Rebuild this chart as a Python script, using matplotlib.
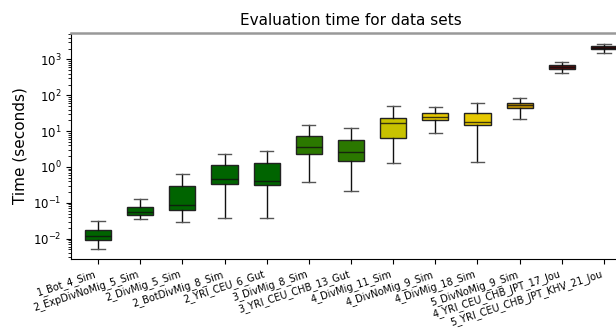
import matplotlib
matplotlib.use("Agg")
import matplotlib.pyplot as plt

# data sets (one box per data set)
labels = [
    "1_Bot_4_Sim", "2_ExpDivNoMig_5_Sim", "2_DivMig_5_Sim", "2_BotDivMig_8_Sim",
    "2_YRI_CEU_6_Gut", "3_DivMig_8_Sim", "3_YRI_CEU_CHB_13_Gut", "4_DivMig_11_Sim",
    "4_DivNoMig_9_Sim", "4_DivMig_18_Sim", "5_DivNoMig_9_Sim",
    "4_YRI_CEU_CHB_JPT_17_Jou", "5_YRI_CEU_CHB_JPT_KHV_21_Jou",
]
whisker_low = [0.0051, 0.035, 0.029, 0.038, 0.038, 0.38, 0.22, 1.32, 8.9, 1.35, 22.4, 415, 1510]
q1 = [0.0091, 0.046, 0.063, 0.34, 0.31, 2.35, 1.5, 6.3, 20.5, 14.9, 45.5, 550, 1980]
median = [0.0118, 0.055, 0.087, 0.46, 0.41, 3.7, 2.7, 16.6, 25.4, 18.5, 54, 605, 2150]
q3 = [0.0174, 0.076, 0.295, 1.14, 1.29, 7.5, 5.7, 24, 32, 33, 63, 690, 2350]
whisker_high = [0.031, 0.128, 0.64, 2.3, 2.8, 14.9, 12.3, 50, 47, 61, 86, 840, 2750]

colors = ["#006400"] * 5 + ["#2b7800", "#2b7800", "#c8c200", "#e6c800", "#e6c800",
                            "#c49400", "#5a0a0a", "#3a0606"]

stats = []
for i, name in enumerate(labels):
    stats.append({
        "label": name,
        "whislo": whisker_low[i],
        "q1": q1[i],
        "med": median[i],
        "q3": q3[i],
        "whishi": whisker_high[i],
        "fliers": [],
    })

fig = plt.figure(figsize=(6.16, 3.29), dpi=100)
ax = fig.add_axes([0.1153, 0.2128, 0.909, 0.687])

bp = ax.bxp(
    stats,
    widths=0.62,
    patch_artist=True,
    showfliers=False,
    boxprops=dict(edgecolor="#222222", linewidth=1.0),
    medianprops=dict(color="#111111", linewidth=1.0, alpha=0.8),
    whiskerprops=dict(color="#111111", linewidth=1.0),
    capprops=dict(color="#555555", linewidth=1.0),
)
for patch, c in zip(bp["boxes"], colors):
    patch.set_facecolor(c)

ax.set_yscale("log")
ax.set_ylim(0.0027, 5500)
ax.set_xlim(0.36, 13.64)
ax.set_title("Evaluation time for data sets", fontsize=11)
ax.set_ylabel("Time (seconds)", fontsize=11)
ax.tick_params(axis="y", labelsize=8.5)
ax.set_xticks(range(1, len(labels) + 1))
ax.set_xticklabels(labels, rotation=18, ha="right", fontsize=7)
ax.spines["top"].set_color("#999999")
ax.spines["top"].set_linewidth(1.8)

fig.savefig("out.png", dpi=100)
